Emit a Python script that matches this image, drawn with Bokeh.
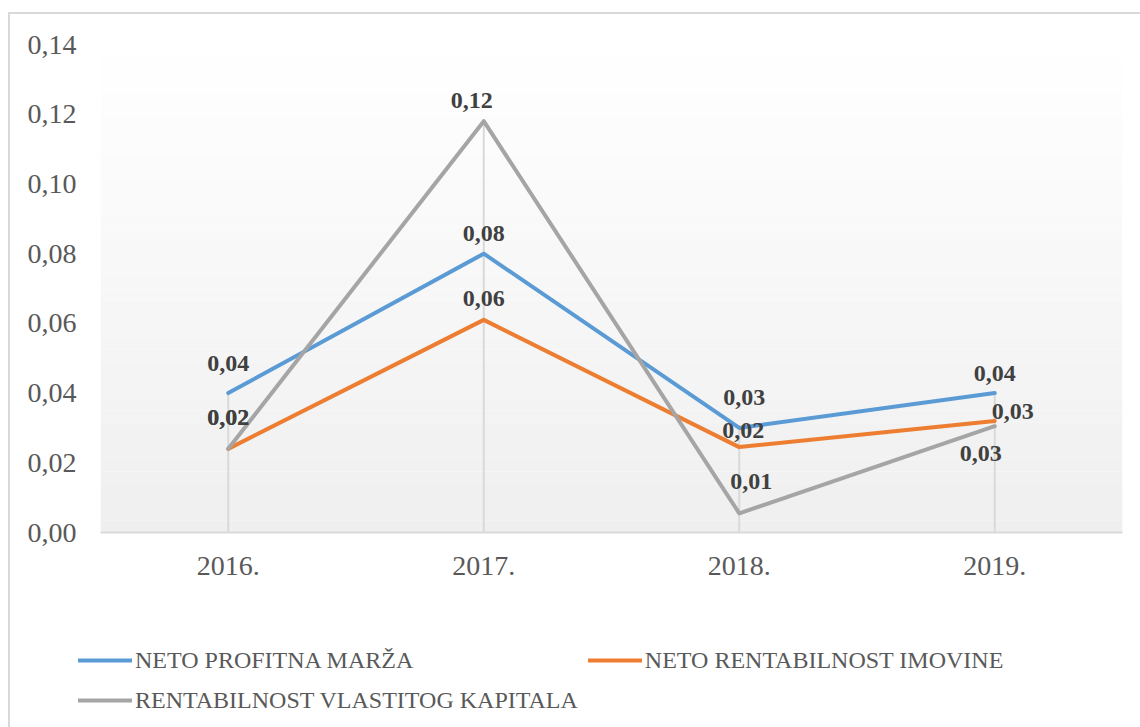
from bokeh.plotting import figure
from bokeh.layouts import column
from bokeh.models import (ColumnDataSource, FixedTicker, Legend, LegendItem,
                          BoxAnnotation, FactorRange, Range1d)
from bokeh.core.properties import value
from bokeh.embed import file_html
from bokeh.resources import INLINE

# ---- data ----
years = ["2016.", "2017.", "2018.", "2019."]
neto_profitna_marza = [0.040, 0.080, 0.030, 0.040]
neto_rentabilnost_imovine = [0.024, 0.061, 0.0245, 0.032]
rentabilnost_vlastitog_kapitala = [0.024, 0.118, 0.0055, 0.0305]
series_names = ["NETO PROFITNA MARŽA", "NETO RENTABILNOST IMOVINE",
                "RENTABILNOST VLASTITOG KAPITALA"]
y_ticks = [0.00, 0.02, 0.04, 0.06, 0.08, 0.10, 0.12, 0.14]
y_tick_labels = ["0,00", "0,02", "0,04", "0,06", "0,08", "0,10", "0,12", "0,14"]

# ---- styles ----
colors = ["#5b9bd5", "#ed7d31", "#a5a5a5"]
# label pixel offsets (dx, dy) per series/point
label_dx = [[0, 0, 5, 0], [0, 0, 4, 18], [0, -12, 12, -14]]
label_dy = [[-30, -20, -30, -20], [-31, -21, -17, -9], [-31, -21, -32, 27]]

SERIF = "Liberation Serif"
TEXT_COL = "#595959"

p = figure(width=1130, height=596, x_range=FactorRange(*years),
           y_range=Range1d(0, 0.14), output_backend="svg",
           toolbar_location=None, tools="",
           min_border_left=90, min_border_top=30, min_border_right=18,
           min_border_bottom=78)
p.outline_line_color = None
p.background_fill_color = "white"
p.border_fill_color = "white"
p.xgrid.visible = False
p.ygrid.visible = False
p.x_range.range_padding = 0

# gradient background bands
nb = 40
top_c = (255, 255, 255)
bot_c = (239, 239, 239)
for i in range(nb):
    b = 0.14 * i / nb
    t = 0.14 * (i + 1) / nb
    f = (i + 0.5) / nb
    c = tuple(int(round(bot_c[k] + (top_c[k] - bot_c[k]) * f)) for k in range(3))
    p.add_layout(BoxAnnotation(bottom=b, top=t, fill_color="#%02x%02x%02x" % c,
                               fill_alpha=1, line_alpha=0, level="underlay"))

# drop lines
all_series = [neto_profitna_marza, neto_rentabilnost_imovine,
              rentabilnost_vlastitog_kapitala]
drop_top = [max(s[i] for s in all_series) for i in range(len(years))]
p.segment(x0=years, y0=[0] * len(years), x1=years, y1=drop_top,
          line_color="#d9d9d9", line_width=2)

for vals, col in zip(all_series, colors):
    p.line(years, vals, line_color=col, line_width=4, line_cap="round",
           line_join="round")

for vals, dx, dy in zip(all_series, label_dx, label_dy):
    src = ColumnDataSource(dict(x=years, y=vals,
                                t=[("%.2f" % v).replace(".", ",") for v in vals],
                                dx=dx, dy=dy))
    p.text(x="x", y="y", text="t", source=src, x_offset="dx", y_offset="dy",
           text_font=value(SERIF), text_font_style="bold",
           text_font_size="24px", text_color="#404040",
           text_align="center", text_baseline="middle")

# axes
p.yaxis.ticker = FixedTicker(ticks=y_ticks)
p.yaxis.major_label_overrides = {t: l for t, l in zip(y_ticks, y_tick_labels)}
p.yaxis.axis_line_color = None
p.yaxis.major_tick_line_color = None
p.yaxis.minor_tick_line_color = None
p.yaxis.major_tick_out = 0
p.yaxis.major_label_standoff = 24
p.yaxis.major_label_text_font = SERIF
p.yaxis.major_label_text_font_size = "28px"
p.yaxis.major_label_text_color = TEXT_COL

p.xaxis.axis_line_color = "#d9d9d9"
p.xaxis.axis_line_width = 2
p.xaxis.major_tick_line_color = None
p.xaxis.minor_tick_line_color = None
p.xaxis.major_tick_out = 0
p.xaxis.major_label_standoff = 24
p.xaxis.major_label_text_font = SERIF
p.xaxis.major_label_text_font_size = "28px"
p.xaxis.major_label_text_color = TEXT_COL

# legend panel (separate figure holding only the legend)
pl = figure(width=1130, height=117, x_range=Range1d(0, 1), y_range=Range1d(0, 1),
            output_backend="svg", toolbar_location=None, tools="",
            x_axis_type=None, y_axis_type=None, min_border=0)
pl.outline_line_color = None
pl.xgrid.visible = False
pl.ygrid.visible = False
leg_x = -22
try:
    pl.frame_align = False
    leg_x = 68
except Exception:
    pass
items = []
nan = float("nan")
for s, col in zip(series_names, colors):
    r = pl.line(x=[nan], y=[nan], line_color=col, line_width=4, line_cap="round")
    items.append(LegendItem(label=s, renderers=[r]))
legend = Legend(items=items, ncols=2, orientation="horizontal",
                location=(leg_x, 12), glyph_width=54, glyph_height=30,
                label_height=30, label_standoff=3, spacing=10, padding=0,
                margin=0, border_line_color=None, background_fill_alpha=0,
                label_text_font=SERIF, label_text_font_size="24px",
                label_text_color=TEXT_COL)
pl.add_layout(legend, "center")

lay = column(p, pl, spacing=0, margin=(12, 0, 0, 8),
             styles={"border-left": "2px solid #d9d9d9",
                     "border-top": "2px solid #d9d9d9"})

open("out.html", "w").write(file_html(lay, INLINE))
